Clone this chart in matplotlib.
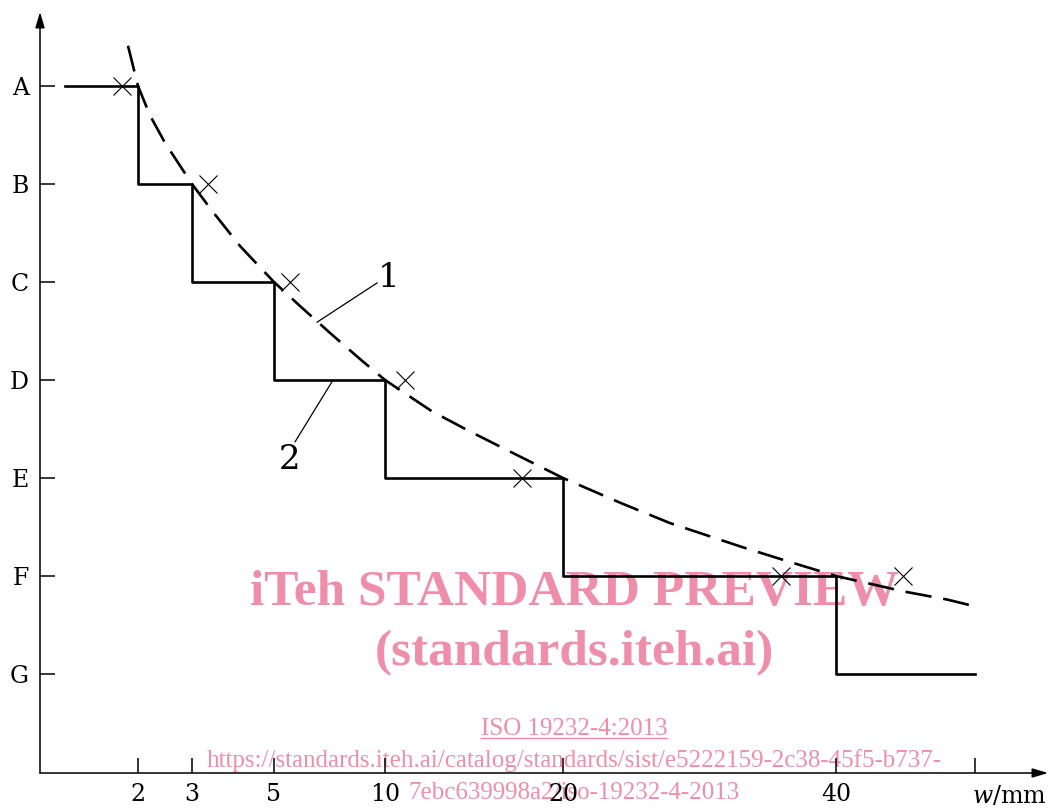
import numpy as np
import matplotlib
matplotlib.use('Agg')
import matplotlib.pyplot as plt
from matplotlib.lines import Line2D

# =========================================================
grades = ['A', 'B', 'C', 'D', 'E', 'F', 'G']
w_ticks = [2, 3, 5, 10, 20, 40, 50]
w_tick_labels = ['2', '3', '5', '10', '20', '40', '']

# step line (2): grade limits
step_w = [0.65, 2, 3, 5, 10, 20, 40, 50]
step_grade = ['A', 'B', 'C', 'D', 'E', 'F', 'G', 'G']

# measured points (x)
cross_w = [1.70, 3.39, 5.72, 11.1, 17.7, 36.0, 44.8]
cross_grade = ['A', 'B', 'C', 'D', 'E', 'F', 'F']

# dashed curve (1)
curve_w = [1.815, 2.0, 2.222, 2.5, 3.0, 3.512, 4.171, 5.0, 6.171, 7.523,
           8.874, 10.0, 12.64, 14.72, 16.80, 20.0, 24.32, 27.84, 33.11,
           36.63, 40.0, 44.96, 47.99, 50.0]
curve_y = [7.41, 7.0, 6.70, 6.42, 6.0, 5.714, 5.367, 5.0, 4.755, 4.480,
           4.214, 4.0, 3.68, 3.48, 3.29, 3.0, 2.74, 2.54, 2.296,
           2.143, 2.0, 1.84, 1.76, 1.69]

# ---------------------------------------------------------
gval = {g: 7 - i for i, g in enumerate(grades)}
# schematic (non-uniform) w axis
knot_w = np.array([0, 2, 3, 5, 10, 20, 40, 50, 60], dtype=float)
knot_p = np.array([30, 138, 192, 274, 385, 563, 836, 975, 1114], dtype=float)
fwd = lambda w: np.interp(w, knot_w, knot_p)
inv = lambda p: np.interp(p, knot_p, knot_w)

plt.rcParams['font.family'] = ['DejaVu Serif']
plt.rcParams['mathtext.fontset'] = 'dejavuserif'

W, H = 1052, 810
fig = plt.figure(figsize=(W / 100, H / 100), dpi=100)
ax = fig.add_axes([40 / W, (H - 773) / H, (1048 - 40) / W, (773 - 12) / H])
ax.patch.set_visible(False)
ax.set_xscale('function', functions=(fwd, inv))
ax.set_xlim(inv(40), inv(1048))
ax.set_ylim(-0.01, 7.755)
for s in ax.spines.values():
    s.set_visible(False)

arr = dict(arrowstyle='-|>,head_length=0.47,head_width=0.14', lw=1.1,
           color='k', mutation_scale=20, shrinkA=0, shrinkB=0)
ax.annotate('', xy=(0, 1), xytext=(0, 0), xycoords='axes fraction', arrowprops=arr)
ax.annotate('', xy=(1, 0), xytext=(0, 0), xycoords='axes fraction', arrowprops=arr)

ax.set_xticks(w_ticks)
ax.set_xticklabels(w_tick_labels)
ax.xaxis.set_minor_locator(matplotlib.ticker.NullLocator())
ax.set_yticks([gval[g] for g in grades])
ax.set_yticklabels(grades)
ax.tick_params(direction='in', length=10.8, width=1.1, labelsize=17)
ax.tick_params(axis='x', pad=7)
ax.tick_params(axis='y', pad=8)

ax.plot(step_w, [gval[g] for g in step_grade], drawstyle='steps-post',
        color='k', lw=1.9, zorder=3)
ax.plot(curve_w, curve_y, color='k', lw=1.9, linestyle=(0, (10, 4.5)), zorder=3)
ax.plot(cross_w, [gval[g] for g in cross_grade], linestyle='none',
        marker='x', ms=13, mew=0.8, color='k', zorder=4)

# item labels with leaders
ax.plot([6.94, 9.64], [4.59, 4.99], color='k', lw=0.9)
ax.text(10.22, 5.04, '1', fontsize=24.5, ha='center', va='center')
ax.plot([7.66, 5.95], [4.0, 3.37], color='k', lw=0.9)
ax.text(5.68, 3.18, '2', fontsize=24.5, ha='center', va='center')

fig.text(972 / W, 1 - 803 / H, '$w$/mm', fontsize=17, ha='left', va='baseline')

# watermark (drawn under the chart)
pink = '#ef8eab'
cx = 574 / W
wm = dict(family='Liberation Serif', color=pink, ha='center', va='baseline', zorder=-1)
fig.text(cx, 1 - 605 / H, 'iTeh STANDARD PREVIEW', weight='bold', fontsize=37, **wm)
fig.text(cx, 1 - 665 / H, '(standards.iteh.ai)', weight='bold', fontsize=37, **wm)
iso = fig.text(cx, 1 - 735 / H, 'ISO 19232-4:2013', fontsize=18, **wm)
fig.text(cx, 1 - 767 / H,
         'https://standards.iteh.ai/catalog/standards/sist/e5222159-2c38-45f5-b737-',
         fontsize=18, **wm)
fig.text(cx, 1 - 799 / H, '7ebc639998a2/iso-19232-4-2013', fontsize=18, **wm)
fig.canvas.draw()
bb = iso.get_window_extent()
yl = (H - 738) / H
fig.add_artist(Line2D([bb.x0 / W, bb.x1 / W], [yl, yl], color=pink, lw=1.0,
                      transform=fig.transFigure, zorder=-1))

fig.savefig('out.png', dpi=100)
